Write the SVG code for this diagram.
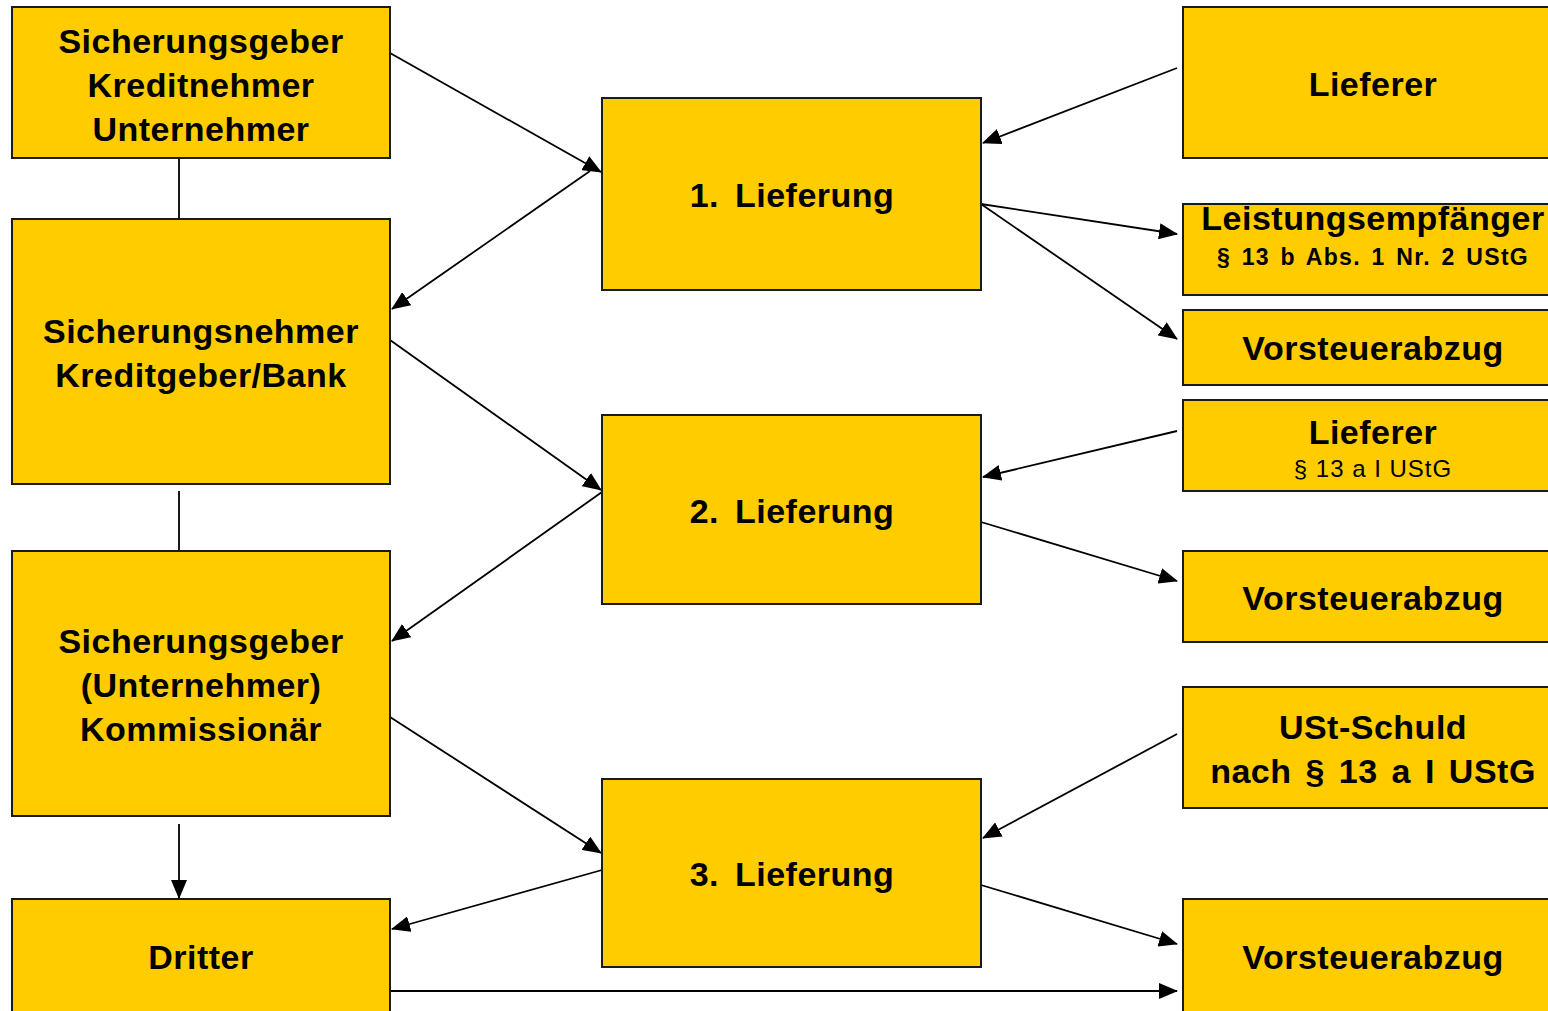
<svg xmlns="http://www.w3.org/2000/svg" width="1548" height="1011" viewBox="0 0 1548 1011">
<defs>
<marker id="ah" markerUnits="userSpaceOnUse" markerWidth="20" markerHeight="16" refX="18" refY="8" orient="auto">
<path d="M0,0 L19,8 L0,16 Z" fill="#000"/>
</marker>
<style>
.box{fill:#FFCC00;stroke:#1a1a1a;stroke-width:2}
.t{font-family:"Liberation Sans",Arial,Helvetica,sans-serif;font-weight:bold;font-size:34px;fill:#000;text-anchor:middle;letter-spacing:0.5px}
.s{font-family:"Liberation Sans",Arial,Helvetica,sans-serif;font-weight:bold;font-size:23px;fill:#000;text-anchor:middle;letter-spacing:1.3px;word-spacing:3px}
.r{font-family:"Liberation Sans",Arial,Helvetica,sans-serif;font-size:24px;fill:#000;text-anchor:middle;letter-spacing:1px}
.c{stroke:#000;stroke-width:1.8;fill:none}
.a{stroke:#000;stroke-width:1.8;fill:none;marker-end:url(#ah)}
</style>
</defs>
<rect width="1548" height="1011" fill="#fff"/>
<g id="connectors">
<line class="c" x1="179" y1="158" x2="179" y2="219"/>
<line class="c" x1="179" y1="491" x2="179" y2="551"/>
<line class="a" x1="179" y1="824" x2="179" y2="898"/>
<line class="a" x1="390" y1="53" x2="601" y2="172"/>
<line class="a" x1="590" y1="171" x2="392" y2="309"/>
<line class="a" x1="390" y1="340" x2="601" y2="490"/>
<line class="a" x1="602" y1="492" x2="392" y2="641"/>
<line class="a" x1="390" y1="717" x2="601" y2="853"/>
<line class="a" x1="602" y1="870" x2="392" y2="929"/>
<line class="a" x1="390" y1="991" x2="1177" y2="991"/>
<line class="a" x1="1177" y1="68" x2="983" y2="143"/>
<line class="a" x1="981" y1="204" x2="1177" y2="234"/>
<line class="a" x1="981" y1="204" x2="1177" y2="339"/>
<line class="a" x1="1177" y1="431" x2="983" y2="477"/>
<line class="a" x1="981" y1="522" x2="1177" y2="581"/>
<line class="a" x1="1177" y1="734" x2="983" y2="838"/>
<line class="a" x1="981" y1="885" x2="1177" y2="944"/>
</g>
<g id="n-sicherungsgeber-kreditnehmer">
<rect class="box" x="12" y="7" width="378" height="151"/>
<text class="t" x="201" y="53">Sicherungsgeber</text>
<text class="t" x="201" y="97">Kreditnehmer</text>
<text class="t" x="201" y="141">Unternehmer</text>
</g>
<g id="n-sicherungsnehmer">
<rect class="box" x="12" y="219" width="378" height="265"/>
<text class="t" x="201" y="343">Sicherungsnehmer</text>
<text class="t" x="201" y="387">Kreditgeber/Bank</text>
</g>
<g id="n-sicherungsgeber-kommissionaer">
<rect class="box" x="12" y="551" width="378" height="265"/>
<text class="t" x="201" y="653">Sicherungsgeber</text>
<text class="t" x="201" y="697">(Unternehmer)</text>
<text class="t" x="201" y="741">Kommissionär</text>
</g>
<g id="n-dritter">
<rect class="box" x="12" y="899" width="378" height="130"/>
<text class="t" x="201" y="969">Dritter</text>
</g>
<g id="n-lieferung1">
<rect class="box" x="602" y="98" width="379" height="192"/>
<text class="t" x="792" y="207" word-spacing="6">1. Lieferung</text>
</g>
<g id="n-lieferung2">
<rect class="box" x="602" y="415" width="379" height="189"/>
<text class="t" x="792" y="523" word-spacing="6">2. Lieferung</text>
</g>
<g id="n-lieferung3">
<rect class="box" x="602" y="779" width="379" height="188"/>
<text class="t" x="792" y="886" word-spacing="6">3. Lieferung</text>
</g>
<g id="n-lieferer1">
<rect class="box" x="1183" y="7" width="380" height="151"/>
<text class="t" x="1373" y="96">Lieferer</text>
</g>
<g id="n-leistungsempfaenger">
<rect class="box" x="1183" y="204" width="380" height="91"/>
<text class="t" x="1373" y="230">Leistungsempfänger</text>
<text class="s" x="1373" y="265">§ 13 b Abs. 1 Nr. 2 UStG</text>
</g>
<g id="n-vorsteuer1">
<rect class="box" x="1183" y="310" width="380" height="75"/>
<text class="t" x="1373" y="360">Vorsteuerabzug</text>
</g>
<g id="n-lieferer2">
<rect class="box" x="1183" y="400" width="380" height="91"/>
<text class="t" x="1373" y="444">Lieferer</text>
<text class="r" x="1373" y="477">§ 13 a I UStG</text>
</g>
<g id="n-vorsteuer2">
<rect class="box" x="1183" y="551" width="380" height="91"/>
<text class="t" x="1373" y="610">Vorsteuerabzug</text>
</g>
<g id="n-ust-schuld">
<rect class="box" x="1183" y="687" width="380" height="121"/>
<text class="t" x="1373" y="739">USt-Schuld</text>
<text class="t" x="1373" y="783" word-spacing="4">nach § 13 a I UStG</text>
</g>
<g id="n-vorsteuer3">
<rect class="box" x="1183" y="899" width="380" height="130"/>
<text class="t" x="1373" y="969">Vorsteuerabzug</text>
</g>
</svg>
